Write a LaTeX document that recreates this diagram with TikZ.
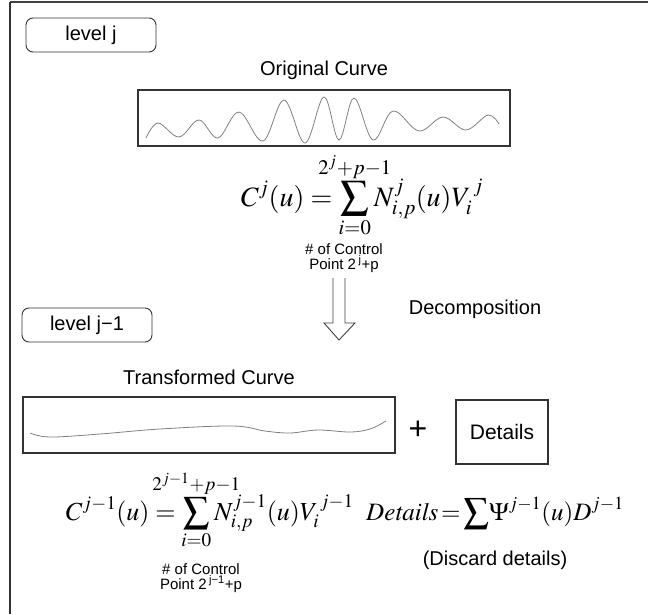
\documentclass[tikz,border=0pt]{standalone}
\usepackage{mathptmx}
\usepackage[no-math]{fontspec}
\setmainfont{Liberation Sans}
\usetikzlibrary{positioning}

\newcommand{\lblfont}{\fontsize{20}{24}\selectfont}
\newcommand{\notefont}{\fontsize{15}{15}\selectfont}
\newcommand{\eqfont}{\fontsize{26}{30}\selectfont}
\newcommand{\zwlim}[1]{\makebox[0pt]{$\scriptstyle #1$}}

\begin{document}
\begin{tikzpicture}[x=1pt, y=-1pt,
  levelbox/.style={draw=black!80, line width=0.9pt, rounded corners=7pt,
    minimum width=130pt, minimum height=34pt, font=\lblfont},
  curvebox/.style={draw=black!80, line width=1.1pt, minimum width=372pt, minimum height=56pt},
  wave/.style={black!50, line width=0.8pt},
  lbl/.style={font=\lblfont, inner sep=0pt},
  note/.style={font=\notefont, align=center, inner sep=0pt},
  eq/.style={font=\eqfont, inner sep=0pt}]
  \useasboundingbox (0,0) rectangle (648,614);

  % page frame
  \draw[black!75, line width=2pt] (10,2) -- (648,2);
  \draw[black!80, line width=1.4pt] (10,2) -- (10,614);

  % level j
  \node[levelbox] (lvlj) at (91,35) {level j};
  \node[curvebox] (orig) at (324,118) {};
  \node[lbl, above=10pt of orig] (origlbl) {Original Curve};
  \draw[wave] plot[smooth, tension=0.6] coordinates {
    (146,138) (158,123) (179,137) (199,120) (218,138) (239,112) (263,141)
    (284,100) (305,143) (324,97) (339,140) (354,98) (373,140) (393,111)
    (419,131) (443,117) (466,130) (488,115) (499,124)};
  \node[eq, font=\fontsize{28}{32}\selectfont, anchor=base] (eqj) at (362,206)
    {$\displaystyle C^{j}(u) = \sum_{i=0}^{\zwlim{2^{j}+p-1}} N_{i,p}^{j}(u)V_i^{\,j}$};
  \node[note] (ctrlj) at (344,258) {\# of Control\\Point 2\,\textsuperscript{j}+p};

  % decomposition arrow
  \coordinate (arrtop) at (339,278);
  \coordinate (arrtip) at (339,340);
  \draw[black!75, line width=0.9pt]
    ([shift={(-6,0)}]arrtop) -- ([shift={(-6,-17)}]arrtip) -- ([shift={(-15,-17)}]arrtip)
    -- (arrtip) -- ([shift={(16,-17)}]arrtip) -- ([shift={(6,-17)}]arrtip)
    -- ([shift={(6,0)}]arrtop);
  \node[lbl] (decomp) at (475,309) {Decomposition};

  % level j-1
  \node[levelbox] (lvljm) at (87,325) {level j−1};
  \node[curvebox] (trans) at (209,425) {};
  \node[lbl, above=12pt of trans] (translbl) {Transformed Curve};
  \draw[wave] plot[smooth, tension=0.6] coordinates {
    (30,433) (50,437) (100,434) (160,429) (233,426) (265,431) (290,433)
    (318,430) (350,432) (370,429) (386,421)};
  \node[font=\fontsize{32}{32}\selectfont, inner sep=0pt] (plus) at (418,430) {+};
  \node[draw=black!80, line width=1.1pt, minimum width=92pt, minimum height=64pt,
    font=\fontsize{21}{24}\selectfont] (det) at (502,432) {Details};

  \node[eq, anchor=base east] (eqjm) at (354,520)
    {$\displaystyle C^{j-1}(u) = \sum_{i=0}^{\zwlim{2^{j-1}+p-1}} N_{i,p}^{j-1}(u)V_i^{\,j-1}$};
  \node[eq, font=\fontsize{25}{30}\selectfont, anchor=base west] (eqdet) at (366,520)
    {$\displaystyle \mathit{Details}\,{=}\,{\sum}\Psi^{j-1}(u)D^{j-1}$};
  \node[note] (ctrljm) at (201,578) {\# of Control\\Point 2\,\textsuperscript{j−1}+p};
  \node[lbl] (discard) at (495,560) {(Discard details)};
\end{tikzpicture}
\end{document}
